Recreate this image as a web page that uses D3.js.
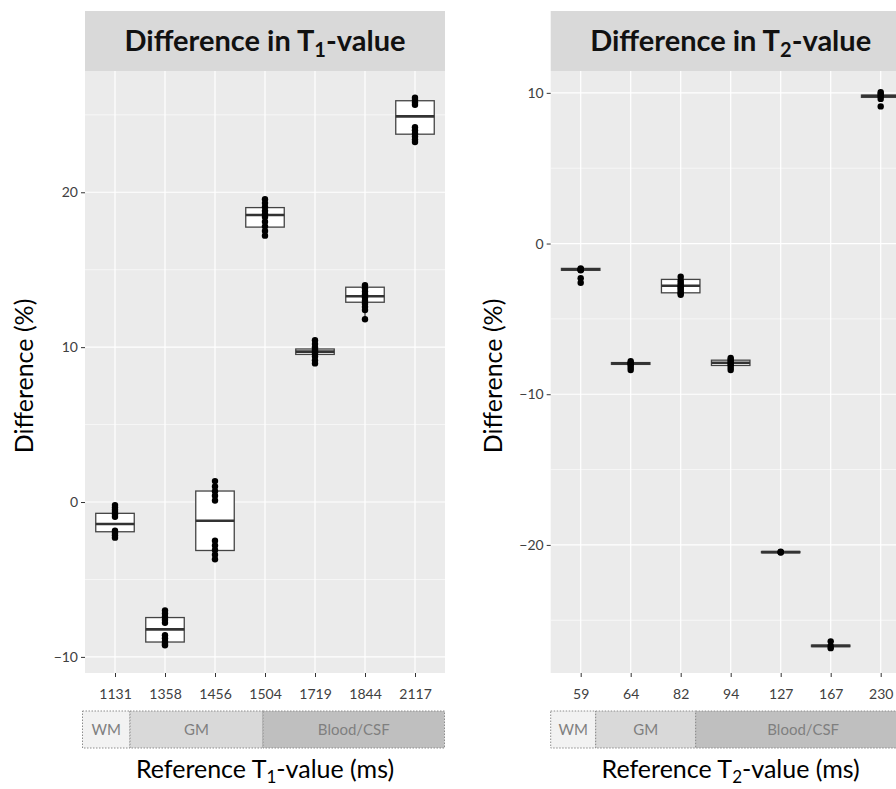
<!DOCTYPE html>
<html>
<head>
<meta charset="utf-8">
<script src="https://cdn.jsdelivr.net/npm/d3@7"></script>
<style>
  body { margin: 0; background: #fff; }
  svg { display: block; font-family: Lato, "Open Sans", sans-serif; }
</style>
</head>
<body>
<svg id="chart" width="896" height="789"></svg>
<script>
// T1 panel data
const t1Categories = ['1131', '1358', '1456', '1504', '1719', '1844', '2117'];
const t1Median = [-1.42, -8.22, -1.21, 18.53, 9.71, 13.29, 24.9];
const t1Q1 = [-1.92, -9.04, -3.13, 17.75, 9.53, 12.9, 23.75];
const t1Q3 = [-0.73, -7.46, 0.71, 19.01, 9.88, 13.87, 25.91];
const t1Points = [
    [-0.2, -0.35, -0.5, -0.65, -0.8, -0.95, -1.85, -2.0, -2.15, -2.3],
    [-7.0, -7.2, -7.4, -7.6, -7.8, -8.6, -8.8, -9.0, -9.15, -9.25],
    [1.35, 1.0, 0.7, 0.4, 0.1, -2.5, -2.8, -3.1, -3.4, -3.7],
    [19.55, 19.3, 19.05, 18.8, 18.6, 18.4, 18.1, 17.8, 17.5, 17.2],
    [10.45, 10.2, 10.0, 9.85, 9.75, 9.65, 9.55, 9.4, 9.15, 8.95],
    [14.0, 13.8, 13.6, 13.4, 13.2, 13.0, 12.8, 12.6, 12.4, 11.8],
    [26.1, 25.95, 25.8, 25.65, 24.2, 24.0, 23.8, 23.6, 23.4, 23.25]
];
const t1Domain = [-11.04, 27.83];
const t1Ticks = [-10, 0, 10, 20];
const t1Minor = [-5, 5, 15, 25];

// T2 panel data
const t2Categories = ['59', '64', '82', '94', '127', '167', '230'];
const t2Median = [-1.71, -7.95, -2.8, -7.91, -20.48, -26.7, 9.79];
const t2Q1 = [-1.78, -8.02, -3.27, -8.09, -20.52, -26.75, 9.7];
const t2Q3 = [-1.65, -7.9, -2.38, -7.74, -20.44, -26.65, 9.85];
const t2Points = [
    [-1.65, -1.7, -1.72, -1.75, -1.78, -2.3, -2.6],
    [-7.8, -7.9, -7.95, -8.0, -8.1, -8.25, -8.4],
    [-2.2, -2.45, -2.6, -2.75, -2.85, -2.95, -3.05, -3.2, -3.3, -3.4],
    [-7.6, -7.7, -7.8, -7.9, -8.0, -8.1, -8.25, -8.4],
    [-20.45, -20.48, -20.5],
    [-26.4, -26.7, -26.85],
    [10.05, 9.95, 9.85, 9.75, 9.6, 9.1]
];
const t2Domain = [-28.5, 11.45];
const t2Ticks = [-20, -10, 0, 10];
const t2Minor = [-25, -15, -5, 5];

// tissue annotation under the axis, extent in category units
const tissueLabels = ['WM', 'GM', 'Blood/CSF'];
const tissueFill = ['#f2f2f2', '#d9d9d9', '#bfbfbf'];
const t1TissueSpan = [[-0.65, 0.3], [0.3, 2.96], [2.96, 6.59]];
const t2TissueSpan = [[-0.6, 0.3], [0.3, 2.3], [2.3, 6.6]];

const svg = d3.select('#chart');

function drawPanel(p) {
    const top = 71, bottom = 673;
    const g = svg.append('g');

    const x = d3.scalePoint().domain(p.categories).range([p.left, p.right]).padding(0.6);
    const y = d3.scaleLinear().domain(p.domain).range([bottom, top]);
    const step = x.step();

    // panel background
    g.append('rect')
        .attr('x', p.left).attr('y', top)
        .attr('width', p.right - p.left).attr('height', bottom - top)
        .attr('fill', '#ebebeb');

    // strip with title
    g.append('rect')
        .attr('x', p.left).attr('y', 11)
        .attr('width', p.right - p.left).attr('height', top - 11)
        .attr('fill', '#d9d9d9');
    const title = g.append('text')
        .attr('x', (p.left + p.right) / 2).attr('y', 51)
        .attr('text-anchor', 'middle')
        .attr('font-size', '29px').attr('font-weight', 'bold')
        .attr('fill', '#111');
    title.append('tspan').text('Difference in T');
    title.append('tspan').attr('dy', 6).attr('font-size', '20px').text(p.sub);
    title.append('tspan').attr('dy', -6).text('-value');

    // grid
    g.selectAll('.minor').data(p.minor).join('line')
        .attr('x1', p.left).attr('x2', p.right)
        .attr('y1', d => y(d)).attr('y2', d => y(d))
        .attr('stroke', '#fff').attr('stroke-width', 0.6);
    g.selectAll('.major').data(p.ticks).join('line')
        .attr('x1', p.left).attr('x2', p.right)
        .attr('y1', d => y(d)).attr('y2', d => y(d))
        .attr('stroke', '#fff').attr('stroke-width', 1.2);
    g.selectAll('.vgrid').data(p.categories).join('line')
        .attr('x1', d => x(d)).attr('x2', d => x(d))
        .attr('y1', top).attr('y2', bottom)
        .attr('stroke', '#fff').attr('stroke-width', 1.2);

    // axes
    const yAxis = g.append('g')
        .attr('transform', `translate(${p.left},0)`)
        .call(d3.axisLeft(y).tickValues(p.ticks).tickSize(4).tickPadding(3));
    const xAxis = g.append('g')
        .attr('transform', `translate(0,${bottom})`)
        .call(d3.axisBottom(x).tickSize(4).tickPadding(12));
    [xAxis, yAxis].forEach(a => {
        a.select('.domain').remove();
        a.selectAll('line').attr('stroke', '#333');
        a.selectAll('text').attr('font-size', '14px').attr('fill', '#404040')
            .attr('font-family', 'Lato, sans-serif');
    });

    // boxes
    const boxW = step * 0.77;
    const boxes = g.selectAll('.box')
        .data(p.categories.map((c, i) => {
            const q1 = p.q1[i], q3 = p.q3[i], iqr = q3 - q1;
            const inside = p.points[i].filter(v => v >= q1 - 1.5 * iqr && v <= q3 + 1.5 * iqr);
            return {c, q1, q3, med: p.median[i],
                lo: d3.min(inside.concat([q1])), hi: d3.max(inside.concat([q3])), pts: p.points[i]};
        }))
        .join('g').attr('class', 'box');

    boxes.append('line')
        .attr('x1', d => x(d.c)).attr('x2', d => x(d.c))
        .attr('y1', d => y(d.hi)).attr('y2', d => y(d.q3))
        .attr('stroke', '#333').attr('stroke-width', 1.2);
    boxes.append('line')
        .attr('x1', d => x(d.c)).attr('x2', d => x(d.c))
        .attr('y1', d => y(d.q1)).attr('y2', d => y(d.lo))
        .attr('stroke', '#333').attr('stroke-width', 1.2);
    boxes.append('rect')
        .attr('x', d => x(d.c) - boxW / 2).attr('width', boxW)
        .attr('y', d => y(d.q3)).attr('height', d => Math.max(0, y(d.q1) - y(d.q3)))
        .attr('fill', '#fff').attr('stroke', '#444').attr('stroke-width', 1.3);
    boxes.append('line')
        .attr('x1', d => x(d.c) - boxW / 2).attr('x2', d => x(d.c) + boxW / 2)
        .attr('y1', d => y(d.med)).attr('y2', d => y(d.med))
        .attr('stroke', '#333').attr('stroke-width', 2.6);

    boxes.selectAll('circle').data(d => d.pts.map(v => ({c: d.c, v})))
        .join('circle')
        .attr('cx', d => x(d.c)).attr('cy', d => y(d.v))
        .attr('r', 3.2).attr('fill', '#000');

    // tissue band
    const bandTop = 711, bandBottom = 748;
    const x0 = x(p.categories[0]);
    const band = g.selectAll('.tissue').data(tissueLabels.map((t, i) => ({t, i, s: p.span[i]})))
        .join('g').attr('class', 'tissue');
    band.append('rect')
        .attr('x', d => x0 + d.s[0] * step).attr('y', bandTop)
        .attr('width', d => (d.s[1] - d.s[0]) * step).attr('height', bandBottom - bandTop)
        .attr('fill', d => tissueFill[d.i])
        .attr('stroke', '#8c8c8c').attr('stroke-width', 1).attr('stroke-dasharray', '1.5,1.5');
    band.append('text')
        .attr('x', d => x0 + (d.s[0] + d.s[1]) / 2 * step).attr('y', (bandTop + bandBottom) / 2 + 5)
        .attr('text-anchor', 'middle').attr('font-size', '15px').attr('fill', '#7f7f7f')
        .text(d => d.t);

    // axis titles
    const xt = g.append('text')
        .attr('x', (p.left + p.right) / 2).attr('y', 778)
        .attr('text-anchor', 'middle').attr('font-size', '25px').attr('fill', '#000');
    xt.append('tspan').text('Reference T');
    xt.append('tspan').attr('dy', 5).attr('font-size', '17px').text(p.sub);
    xt.append('tspan').attr('dy', -5).text('-value (ms)');

    g.append('text')
        .attr('transform', `translate(${p.ylabelX},${(top + bottom) / 2 + 4}) rotate(-90)`)
        .attr('text-anchor', 'middle').attr('font-size', '25px').attr('fill', '#000')
        .text('Difference (%)');
}

drawPanel({
    left: 85, right: 445, sub: '1', ylabelX: 33,
    categories: t1Categories, median: t1Median, q1: t1Q1, q3: t1Q3, points: t1Points,
    domain: t1Domain, ticks: t1Ticks, minor: t1Minor, span: t1TissueSpan
});
drawPanel({
    left: 550.7, right: 910.7, sub: '2', ylabelX: 502,
    categories: t2Categories, median: t2Median, q1: t2Q1, q3: t2Q3, points: t2Points,
    domain: t2Domain, ticks: t2Ticks, minor: t2Minor, span: t2TissueSpan
});
</script>
</body>
</html>
